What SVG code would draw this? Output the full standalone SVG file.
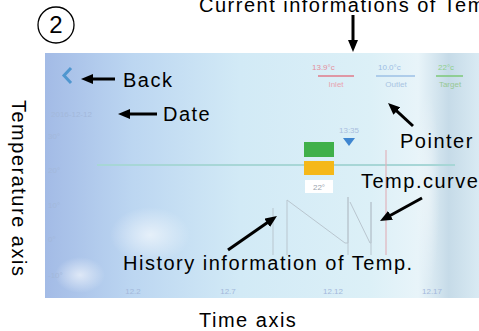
<svg xmlns="http://www.w3.org/2000/svg" width="479" height="331" viewBox="0 0 479 331">
<defs>
<linearGradient id="bg" x1="0" y1="0" x2="1" y2="0">
<stop offset="0" stop-color="#a3bbe6"/>
<stop offset="0.2" stop-color="#bcd6f1"/>
<stop offset="0.45" stop-color="#d2eaf6"/>
<stop offset="0.75" stop-color="#dcf0f7"/>
<stop offset="0.86" stop-color="#e8f4f9"/>
<stop offset="0.93" stop-color="#c6dbe8"/>
<stop offset="1" stop-color="#d9eaf3"/>
</linearGradient>
<radialGradient id="glow" cx="0.5" cy="0.5" r="0.5">
<stop offset="0" stop-color="#ffffff" stop-opacity="0.6"/>
<stop offset="1" stop-color="#ffffff" stop-opacity="0"/>
</radialGradient>
<marker id="ah" markerUnits="userSpaceOnUse" markerWidth="12" markerHeight="10" refX="4" refY="5" orient="auto">
<path d="M0,0 L12,5 L0,10 z" fill="#000"/>
</marker>
</defs>
<style>
.lbl{font-family:"Liberation Sans",Arial,sans-serif;font-size:20px;letter-spacing:1.5px;fill:#000}
.ui{font-family:"Liberation Sans",Arial,sans-serif;font-size:8px}
.axis{fill:#a3b8da}
.conn line{stroke:#000;stroke-width:3;marker-end:url(#ah)}
.hist{stroke:#b9c6cf;stroke-width:1;fill:none}
</style>

<g id="screen">
<rect x="45" y="53" width="434" height="245" fill="url(#bg)"/>
<ellipse cx="150" cy="235" rx="40" ry="28" fill="url(#glow)"/>
<ellipse cx="80" cy="275" rx="25" ry="18" fill="url(#glow)"/>
<ellipse cx="428" cy="190" rx="12" ry="100" fill="url(#glow)" opacity="0.6"/>
<polyline points="71,68 64,75.5 71,83" fill="none" stroke="#4f96cf" stroke-width="3" stroke-linejoin="miter"/>
<text class="ui axis" x="51" y="117" font-size="9">2016-12-12</text>
<text class="ui axis" x="48" y="139">30°</text>
<text class="ui axis" x="48" y="173">20°</text>
<text class="ui axis" x="48" y="208">10°</text>
<text class="ui axis" x="48" y="242">0°</text>
<text class="ui axis" x="48" y="278">-10°</text>
<text class="ui axis" x="133" y="294" text-anchor="middle">12.2</text>
<text class="ui axis" x="228" y="294" text-anchor="middle">12.7</text>
<text class="ui axis" x="333" y="294" text-anchor="middle">12.12</text>
<text class="ui axis" x="432" y="294" text-anchor="middle">12.17</text>
<line x1="97" y1="165" x2="455" y2="165" stroke="#a7d6d6" stroke-width="2"/>
<line x1="386" y1="150" x2="386" y2="255" stroke="#e0b4bc" stroke-width="1.2"/>
<line x1="273" y1="208" x2="273" y2="255" class="hist"/>
<polyline class="hist" points="287,255 287,200 345,243 348,243 348,197 348,255"/>
<polyline class="hist" points="350,202 370,243 371,243 371,202 371,255"/>
<text class="ui" x="312" y="70" fill="#e3909c" font-size="11">13.9°c</text>
<line x1="318" y1="76" x2="354" y2="76" stroke="#e07a8a" stroke-width="1.5"/>
<text class="ui" x="336" y="87" fill="#e8a4b0" text-anchor="middle">Inlet</text>
<text class="ui" x="378" y="70" fill="#9cbde4" font-size="11">10.0°c</text>
<line x1="376" y1="76" x2="415" y2="76" stroke="#9cc0e6" stroke-width="1.5"/>
<text class="ui" x="396" y="87" fill="#a8c4e2" text-anchor="middle">Outlet</text>
<text class="ui" x="438" y="70" fill="#8ed08a" font-size="11">22°c</text>
<line x1="436" y1="76" x2="463" y2="76" stroke="#7cc878" stroke-width="1.5"/>
<text class="ui" x="450" y="87" fill="#98c894" text-anchor="middle">Target</text>
<text class="ui" x="349" y="133" fill="#a9bede" text-anchor="middle">13:35</text>
<path d="M343,138 L355,138 L349,146 Z" fill="#3f86d0"/>
<rect x="304" y="142" width="30" height="15" fill="#3fb04a"/>
<rect x="304" y="161" width="30" height="14" fill="#f5b819"/>
<rect x="305" y="180" width="28" height="13" fill="#ffffff"/>
<text class="ui" x="319" y="190" fill="#9aa4ae" text-anchor="middle" font-size="7">22°</text>
</g>

<g id="badge">
<circle cx="56" cy="25" r="18" fill="none" stroke="#000" stroke-width="1.3"/>
<text x="56" y="33" text-anchor="middle" font-family="Liberation Sans, Arial, sans-serif" font-size="24">2</text>
</g>
<g id="current"><text class="lbl" x="199" y="12">Current informations of Temp</text></g>
<g id="back"><text class="lbl" x="123" y="87">Back</text></g>
<g id="date"><text class="lbl" x="163" y="121">Date</text></g>
<g id="pointer"><text class="lbl" x="400" y="148">Pointer</text></g>
<g id="curve"><text class="lbl" x="361" y="188">Temp.curve</text></g>
<g id="history"><text class="lbl" x="123" y="270">History information of Temp.</text></g>
<g id="timeaxis"><text class="lbl" x="199" y="327">Time axis</text></g>
<g id="tempaxis"><text class="lbl" transform="translate(12,100) rotate(90)">Temperature axis</text></g>

<g id="connectors" class="conn">
<line x1="353" y1="15" x2="353" y2="44"/>
<line x1="115" y1="79" x2="89" y2="79"/>
<line x1="157" y1="114" x2="126" y2="114"/>
<line x1="413" y1="126" x2="393.9" y2="108.4"/>
<line x1="422" y1="198" x2="387" y2="217.2"/>
<line x1="228" y1="250" x2="270.4" y2="220.6"/>
</g>
</svg>
